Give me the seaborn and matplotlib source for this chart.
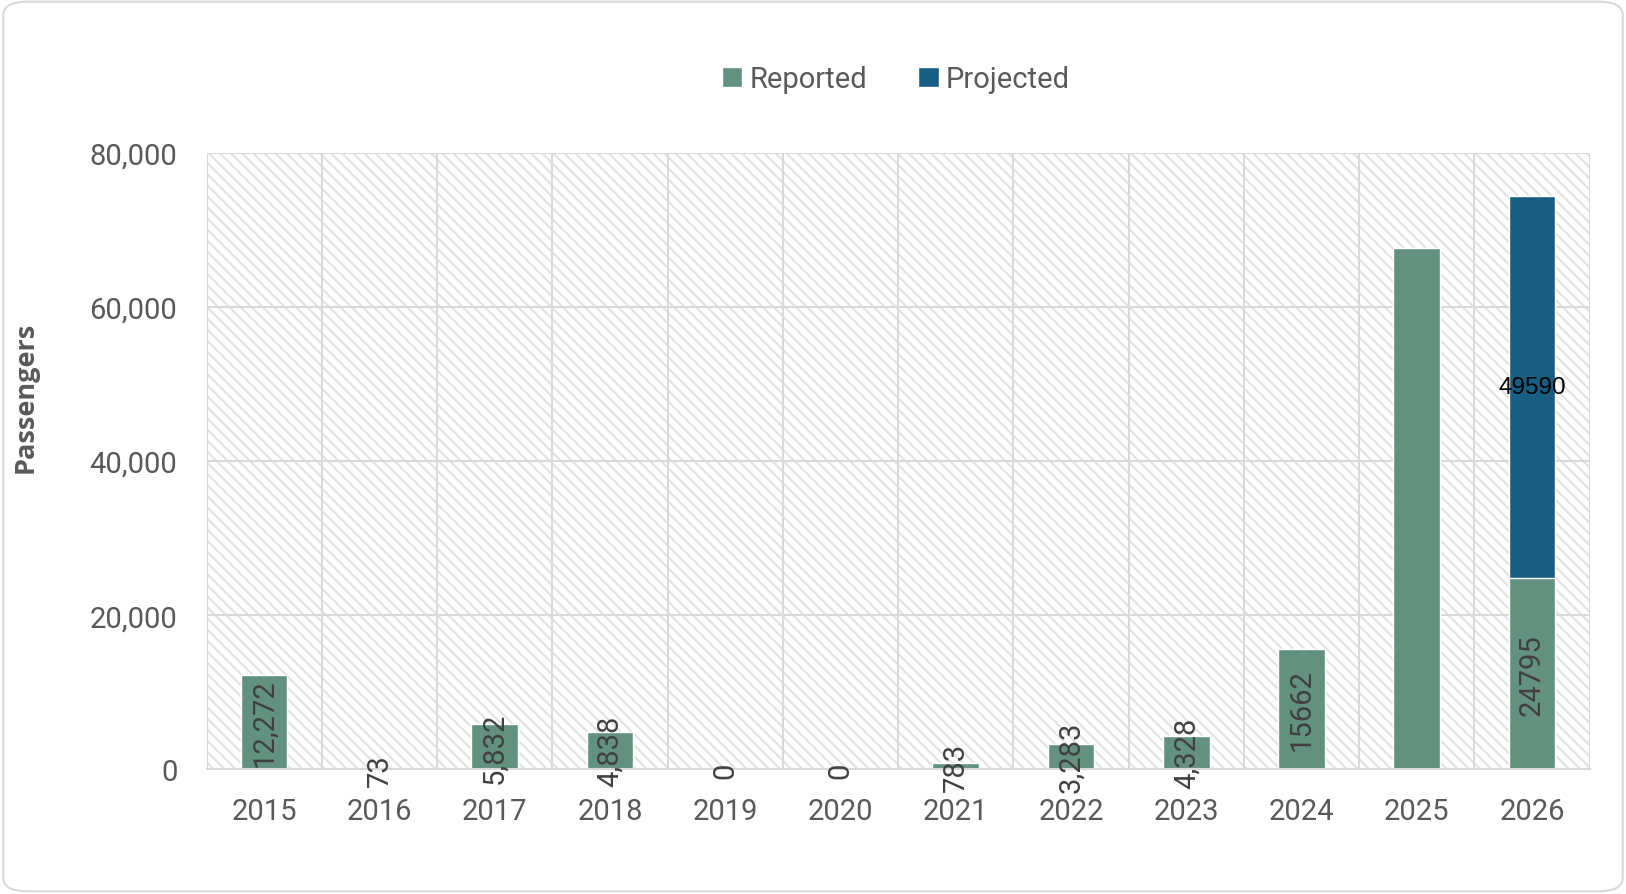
import matplotlib
matplotlib.use("Agg")
import matplotlib.pyplot as plt
import seaborn as sns
import pandas as pd
from matplotlib.patches import Rectangle, FancyBboxPatch, Patch
from matplotlib.ticker import FuncFormatter

years = ["2015", "2016", "2017", "2018", "2019", "2020", "2021", "2022", "2023", "2024", "2025", "2026"]
reported = [12272, 73, 5832, 4838, 0, 0, 783, 3283, 4328, 15662, 67600, 24795]
projected = [0, 0, 0, 0, 0, 0, 0, 0, 0, 0, 0, 49590]
reported_labels = ["12,272", "73", "5,832", "4,838", "0", "0", "783", "3,283", "4,328", "15662", "", "24795"]
projected_label = "49590"

GREEN = "#62917f"
BLUE = "#175e82"
GRAY = "#595959"
GRID = "#d9d9d9"

sns.set_style("white")
plt.rcParams["font.family"] = ["Roboto", "DejaVu Sans"]
plt.rcParams["hatch.linewidth"] = 1.5
plt.rcParams["hatch.color"] = "#e2e2e2"

df = pd.DataFrame({"year": years, "reported": reported, "projected": projected})
df["total"] = df["reported"] + df["projected"]

fig = plt.figure(figsize=(16.26, 8.95), dpi=100)
ax = fig.add_axes([0.127, 0.1392, 0.9777 - 0.127, 0.8283 - 0.1392])

# outer rounded border
fig.patches.append(FancyBboxPatch((0.002, 0.003), 0.996, 0.994, boxstyle="round,pad=0,rounding_size=0.015",
                                  transform=fig.transFigure, facecolor="white", edgecolor=GRID,
                                  linewidth=1.5, zorder=-10))

# hatched plot-area background
ax.add_patch(Rectangle((0, 0), 1, 1, transform=ax.transAxes, facecolor="white",
                       hatch="\\\\\\", edgecolor="#e2e2e2", linewidth=0, zorder=0))

sns.barplot(data=df, x="year", y="total", color=BLUE, width=0.405, saturation=1, ax=ax, zorder=3)
sns.barplot(data=df, x="year", y="reported", color=GREEN, width=0.405, saturation=1, ax=ax, zorder=4)

ax.set_xlim(-0.5, len(years) - 0.5)
ax.set_ylim(0, 80000)
ax.set_yticks(range(0, 80001, 20000))
ax.yaxis.set_major_formatter(FuncFormatter(lambda v, p: f"{int(v):,}"))

for y in range(20000, 80001, 20000):
    ax.axhline(y, color=GRID, lw=1.5, zorder=1)
for i in range(len(years) + 1):
    ax.axvline(i - 0.5, color=GRID, lw=1.5, zorder=1)

for s in ["top", "right", "left"]:
    ax.spines[s].set_visible(False)
ax.spines["bottom"].set_color(GRID)
ax.spines["bottom"].set_linewidth(1.5)
ax.spines["bottom"].set_zorder(5)

ax.tick_params(axis="both", length=0, labelsize=21, colors=GRAY)
ax.tick_params(axis="x", pad=20)
ax.tick_params(axis="y", pad=21)
ax.set_xlabel("")
ax.set_ylabel("")

ax.bar_label(ax.containers[1], labels=reported_labels, label_type="center", rotation=90,
             fontsize=21, color="#404040", zorder=6)

for i, (r, p) in enumerate(zip(reported, projected)):
    if p > 0:
        ax.text(i, r + p / 2, projected_label, ha="center", va="center", fontsize=17.5,
                color="black", family=["Liberation Sans", "DejaVu Sans"], zorder=6)

fig.text(0.016, 0.556, "Passengers", rotation=90, ha="center", va="center",
         fontsize=19.5, fontweight="bold", color=GRAY, family=["Open Sans", "DejaVu Sans"])

handles = [Patch(facecolor=GREEN, label="Reported"), Patch(facecolor=BLUE, label="Projected")]
fig.legend(handles=handles, loc="center", bbox_to_anchor=(0.551, 1 - 77 / 862), ncol=2, frameon=False,
           fontsize=21, labelcolor=GRAY, handlelength=0.7, handleheight=0.7, handletextpad=0.25,
           columnspacing=1.75)

fig.savefig("out.png", dpi=100)
